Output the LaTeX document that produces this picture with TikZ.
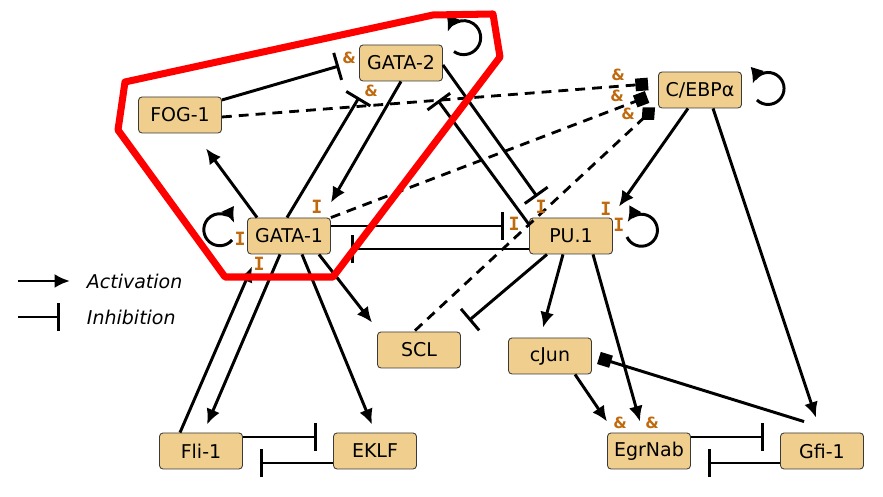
\documentclass[tikz,border=0pt]{standalone}
\usepackage{fontspec}
\setmainfont{DejaVu Sans}
\setmonofont{DejaVu Sans Mono}
\usepackage{tikz}
\usetikzlibrary{arrows.meta,calc}
\definecolor{gbox}{HTML}{F0CF8E}
\definecolor{gboxd}{HTML}{3A3A3A}
\definecolor{lbl}{HTML}{C06A10}
\definecolor{hullred}{HTML}{FF0000}
\tikzset{
  % gene boxes, all the same size
  gene/.style   = {rectangle, rounded corners=2.5pt, draw=gboxd, fill=gbox, line width=0.6pt,
                   minimum width=2.075cm, minimum height=0.9cm, inner sep=0pt,
                   font=\fontsize{13.5}{16}\selectfont},
  act/.style    = {-{Latex[length=11pt,width=10pt]}, line width=2.1pt},
  inh/.style    = {-{Bar[width=20pt]}, line width=2.1pt},
  dashlink/.style = {dash pattern=on 7pt off 5pt, line width=2pt},
  andsq/.style  = {dashlink, -{Square[length=9pt,width=9pt]}},
  anddia/.style = {dashlink, -{Diamond[length=13pt,width=12pt]}},
  solsq/.style  = {-{Square[length=9pt,width=9pt]}, line width=2.1pt},
  amp/.style    = {text=lbl, inner sep=0pt, font=\bfseries\fontsize{11}{11}\selectfont},
  itag/.style   = {text=lbl, inner sep=0pt, font=\ttfamily\bfseries\fontsize{13}{13}\selectfont},
  legend/.style = {font=\itshape\fontsize{13.5}{15}\selectfont},
  hull/.style   = {draw=hullred, line width=5pt, line join=round},
}
\begin{document}
\begin{tikzpicture}[x=0.025cm,y=0.025cm]
\useasboundingbox (0,0) rectangle (883,497);

% genes
\node[gene] (gata2)  at (401,434) {GATA-2};
\node[gene] (fog1)   at (180,382) {FOG-1};
\node[gene] (gata1)  at (289,261) {GATA-1};
\node[gene] (pu1)    at (571,261) {PU.1};
\node[gene] (cebpa)  at (700,407) {C/EBPα};
\node[gene] (scl)    at (419,147) {SCL};
\node[gene] (fli1)   at (201,46)  {Fli-1};
\node[gene] (eklf)   at (375,46)  {EKLF};
\node[gene] (cjun)   at (550,141) {cJun};
\node[gene] (egrnab) at (649,46)  {EgrNab};
\node[gene] (gfi1)   at (822,46)  {Gfi-1};

% self loops
\draw[act] ($(gata2.north east)+(11,-7)$) arc[start angle=235, end angle=520, radius=17];
\draw[act] ($(gata1.west)+(-15,-4)$) arc[start angle=320, end angle=25, radius=16];
\draw[act] ($(pu1.east)+(14,-1)$) arc[start angle=205, end angle=510, radius=16];
\draw[act] ($(cebpa.east)+(15,-10)$) arc[start angle=226, end angle=523, radius=16];

% activation
\draw[act] (gata2.south) -- ($(gata1.north east)+(0,15)$);
\draw[act] ($(gata1.north west)+(10,0)$) -- ($(fog1.south)+(26,-15)$);
\draw[act] ($(cebpa.south)+(-12,0)$) -- ($(pu1.north east)+(6,11)$);
\draw[act] ($(cebpa.south)+(13,0)$) -- ($(gfi1.north)+(-6,15)$);
\draw[act] ($(pu1.south)+(-8,0)$) -- ($(cjun.north)+(-7,10)$);
\draw[act] ($(pu1.south)+(22,0)$) -- ($(egrnab.north)+(-9,11)$);
\draw[act] ($(cjun.south)+(25,0)$) -- ($(egrnab.north west)+(0,11)$);
\draw[act] ($(fli1.north)+(-21,0)$) -- ($(gata1.south west)+(5,-12)$);
\draw[act] ($(gata1.south)+(-9,0)$) -- ($(fli1.north)+(6,8)$);
\draw[act] ($(gata1.south)+(13,0)$) -- ($(eklf.north)+(-3,8)$);
\draw[act] ($(gata1.south east)+(-12,0)$) -- ($(scl.north west)+(-5,9)$);

% inhibition
\draw[inh] ($(fog1.east)+(0,15)$) -- ($(gata2.west)+(-20,-3)$);
\draw[inh] ($(gata1.north)+(-2,0)$) -- ($(gata2.south west)+(0,-16)$);
\draw[inh] ($(gata1.east)+(0,10)$) -- ($(pu1.west)+(-25,10)$);
\draw[inh] ($(pu1.west)+(0,-13)$) -- ($(gata1.east)+(20,-13)$);
\draw[inh] ($(gata2.east)+(0,-2)$) -- ($(pu1.north west)+(8,21)$);
\draw[inh] ($(pu1.north west)+(0,-7)$) -- ($(gata2.south east)+(-5,-19)$);
\draw[inh] ($(pu1.south)+(-24,0)$) -- ($(scl.north east)+(8,11)$);
\draw[inh] ($(fli1.east)+(0,14)$) -- ($(eklf.west)+(-16,14)$);
\draw[inh] ($(eklf.west)+(0,-12)$) -- ($(fli1.east)+(17,-12)$);
\draw[inh] ($(egrnab.east)+(0,14)$) -- ($(gfi1.west)+(-16,14)$);
\draw[inh] ($(gfi1.west)+(0,-12)$) -- ($(egrnab.east)+(17,-12)$);

% combined (&) inputs
\draw[andsq] ($(fog1.east)+(0,-2)$) -- ($(cebpa.west)+(-10,6)$);
\draw[andsq] (gata1.north east) -- ($(cebpa.west)+(-11,-7)$);
\draw[anddia] ($(scl.north)+(-4,1)$) -- ($(cebpa.south west)+(-3,1)$);
\draw[solsq] ($(gfi1.north west)+(24,11)$) -- ($(cjun.east)+(7,-2)$);

% & and I marks
\node[amp] (amp1) at ($(gata2.west)+(-10,5)$) {\&};
\node[amp] (amp2) at ($(gata2.south west)+(12,-9)$) {\&};
\node[amp] (amp3) at ($(cebpa.west)+(-40,15)$) {\&};
\node[amp] (amp4) at ($(cebpa.west)+(-41,-6)$) {\&};
\node[amp] (amp5) at ($(cebpa.west)+(-30,-24)$) {\&};
\node[amp] (amp6) at ($(egrnab.north west)+(13,10)$) {\&};
\node[amp] (amp7) at ($(egrnab.north)+(3,10)$) {\&};
\node[itag] (ig1) at ($(gata1.north east)+(-14,11)$) {I};
\node[itag] (ig2) at ($(gata1.west)+(-7,-3)$) {I};
\node[itag] (ig3) at ($(gata1.south west)+(12,-9)$) {I};
\node[itag] (ip1) at ($(pu1.west)+(-15,12)$) {I};
\node[itag] (ip2) at ($(pu1.north west)+(12,11)$) {I};
\node[itag] (ip3) at ($(pu1.north east)+(-7,9)$) {I};
\node[itag] (ip4) at ($(pu1.east)+(6,11)$) {I};

% legend
\node[legend, anchor=west] (lact) at (82,216) {Activation};
\node[legend, anchor=west] (linh) at (82,180) {Inhibition};
\coordinate (la) at (18,216);
\coordinate (li) at (18,180);
\draw[act] (la) -- ($(lact.west)+(-12,0)$);
\draw[inh] (li) -- ($(linh.west)+(-22,0)$);

% highlighted module
\draw[hull] (125,415) -- (433,482) -- (493,483) -- (500,440) -- (333,220)
            -- (225,220) -- (118,367) -- cycle;
\end{tikzpicture}
\end{document}
